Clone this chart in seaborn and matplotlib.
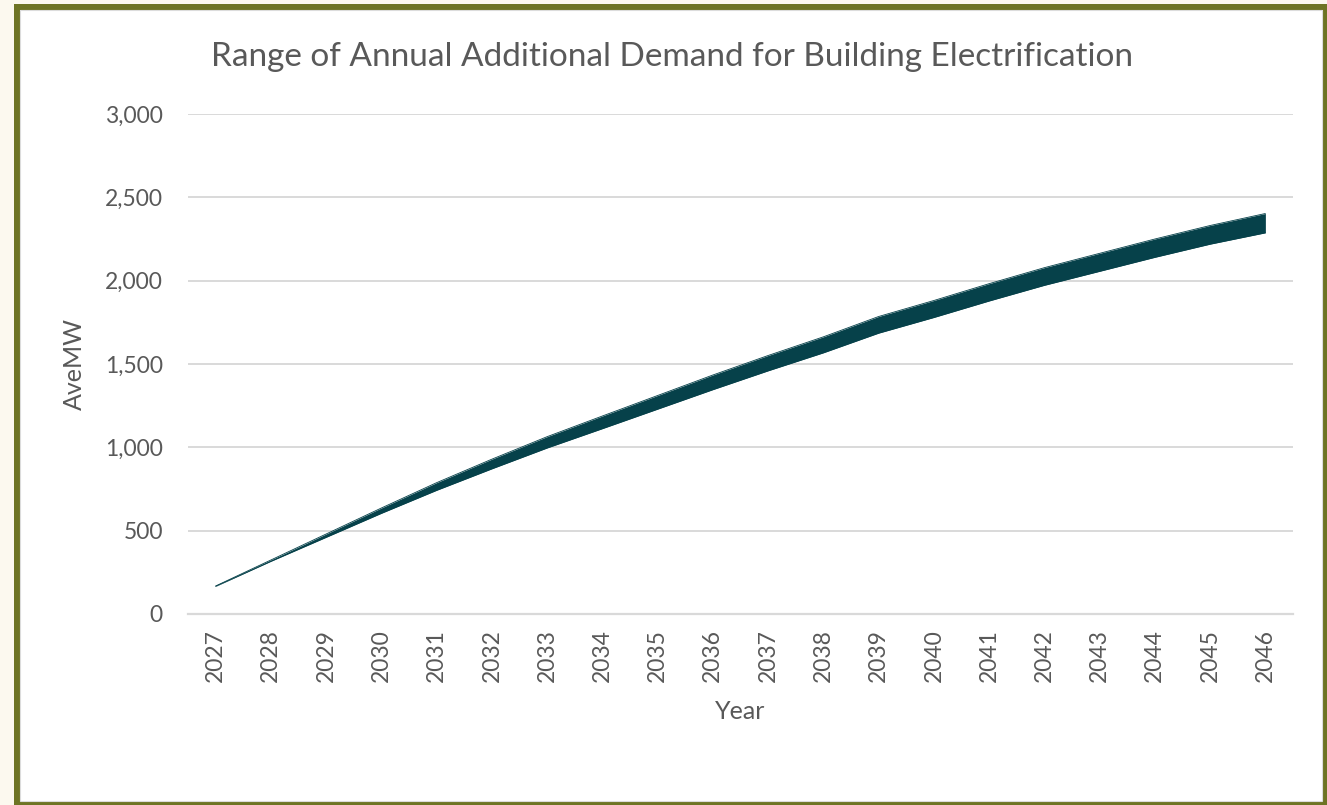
import numpy as np
import pandas as pd
import matplotlib
matplotlib.use("Agg")
import matplotlib.pyplot as plt
from matplotlib.patches import Rectangle
from matplotlib.ticker import FuncFormatter, FixedLocator
import seaborn as sns

# Annual additional demand range (aMW) for building electrification
years = [2027, 2028, 2029, 2030, 2031, 2032, 2033, 2034, 2035, 2036,
         2037, 2038, 2039, 2040, 2041, 2042, 2043, 2044, 2045, 2046]
low_demand = [166, 316, 460, 604, 742, 871, 996, 1112, 1229, 1346,
              1459, 1567, 1685, 1779, 1878, 1972, 2056, 2140, 2219, 2287]
high_demand = [168, 324, 480, 636, 788, 929, 1064, 1188, 1311, 1434,
               1551, 1663, 1785, 1881, 1982, 2078, 2164, 2250, 2331, 2403]
y_ticks = [0, 500, 1000, 1500, 2000, 2500, 3000]

title_text = "Range of Annual Additional Demand for Building Electrification"
band_color = "#06414a"
text_color = "#595959"
grid_color = "#d9d9d9"
frame_color = "#6e7424"

sns.set_theme(style="white")
plt.rcParams["font.family"] = ["Lato", "DejaVu Sans"]

W, H = 1327, 805
fig = plt.figure(figsize=(W / 100, H / 100), dpi=100, facecolor="#fcf9ef")


def fx(px):
    return px / W


def fy(py):
    return 1 - py / H


# olive frame around the chart area
frame = Rectangle((fx(16.5), fy(804)), fx(1325.5) - fx(16.5), fy(7) - fy(804),
                  transform=fig.transFigure, facecolor="white",
                  edgecolor=frame_color, linewidth=6 * 72 / 100, zorder=-2)
fig.patches.append(frame)
inner = Rectangle((fx(20), fy(801)), fx(1322) - fx(20), fy(10.5) - fy(801),
                  transform=fig.transFigure, facecolor="none",
                  edgecolor="#dcdcdc", linewidth=0.8, zorder=-1)
fig.patches.append(inner)

ax = fig.add_axes([fx(188), fy(614), fx(1293) - fx(188), fy(114) - fy(614)])
ax.set_facecolor("none")
ax.set_zorder(1)

df = pd.DataFrame({
    "Year": years * 2,
    "AveMW": low_demand + high_demand,
    "bound": ["low"] * len(years) + ["high"] * len(years),
})
sns.lineplot(data=df, x="Year", y="AveMW", hue="bound",
             palette=[band_color, band_color], legend=False,
             linewidth=0.6, ax=ax, zorder=3)
ax.fill_between(years, low_demand, high_demand, color=band_color,
                linewidth=0, zorder=3)

ax.set_xlim(years[0] - 0.5, years[-1] + 0.5)
ax.set_ylim(0, 3000)
ax.set_yticks(y_ticks)
ax.yaxis.set_major_formatter(FuncFormatter(lambda v, p: f"{int(v):,}"))
ax.set_xticks(years)
ax.set_xticklabels([str(y) for y in years], rotation=90)
ax.xaxis.set_minor_locator(FixedLocator([y - 0.5 for y in years] + [years[-1] + 0.5]))

ax.grid(axis="y", color=grid_color, linewidth=1.4, zorder=0)
ax.grid(axis="x", visible=False)
for side in ["left", "right", "top"]:
    ax.spines[side].set_visible(False)
ax.spines["bottom"].set_color(grid_color)
ax.spines["bottom"].set_linewidth(1.6)

ax.tick_params(axis="y", length=0, pad=18, labelsize=16.5, labelcolor=text_color)
ax.tick_params(axis="x", which="major", length=0, pad=11, labelsize=16.5,
               labelcolor=text_color)
ax.tick_params(axis="x", which="minor", length=7, width=1.4, color=grid_color,
               direction="out")

ax.set_xlabel("Year", fontsize=18, color=text_color, labelpad=13)
ax.set_ylabel("AveMW", fontsize=18, color=text_color, labelpad=14)

fig.text(fx(672), fy(57), title_text, ha="center", va="center",
         fontsize=24, color=text_color)

fig.savefig("out.png", dpi=100, facecolor=fig.get_facecolor())
